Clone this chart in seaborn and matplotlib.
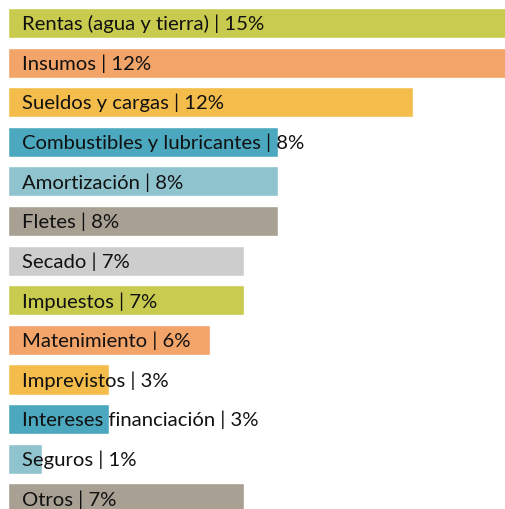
import pandas as pd
import matplotlib.pyplot as plt
import seaborn as sns

categories = ["Rentas (agua y tierra)", "Insumos", "Sueldos y cargas",
              "Combustibles y lubricantes", "Amortización", "Fletes", "Secado",
              "Impuestos", "Matenimiento", "Imprevistos", "Intereses financiación",
              "Seguros", "Otros"]
# bar lengths as drawn in the picture
bar_values = [15, 15, 12, 8, 8, 8, 7, 7, 6, 3, 3, 1, 7]
# percentages written in the labels
pct_labels = ["15%", "12%", "12%", "8%", "8%", "8%", "7%", "7%", "6%", "3%", "3%", "1%", "7%"]
colors = ["#C9CB4F", "#F2A469", "#F4BC4A", "#4BA8BE", "#8FC4CF", "#A9A094", "#CDCDCD"]

if __name__ == "__main__":
    df = pd.DataFrame({"Categoria": categories, "Valor": bar_values, "Etiqueta": pct_labels})
    palette = [colors[i % len(colors)] for i in range(len(categories))]

    sns.set_style("white")
    plt.rcParams["font.family"] = ["Lato", "DejaVu Sans"]

    fig = plt.figure(figsize=(5.05, 5.10), dpi=100)
    ax = fig.add_axes([8 / 505, 0, 506 / 505, 1])

    sns.barplot(data=df, x="Valor", y="Categoria", hue="Categoria", palette=palette,
                legend=False, width=0.76, saturation=1, ax=ax)

    for i, row in df.iterrows():
        ax.text(0.42, i, f"{row['Categoria']} | {row['Etiqueta']}", va="center", ha="left",
                fontsize=14.6, color="#111111")

    ax.set_xlim(0, 15)
    ax.set_ylim(12.27, -0.606)
    ax.axis("off")
    fig.savefig("out.png", dpi=100)
